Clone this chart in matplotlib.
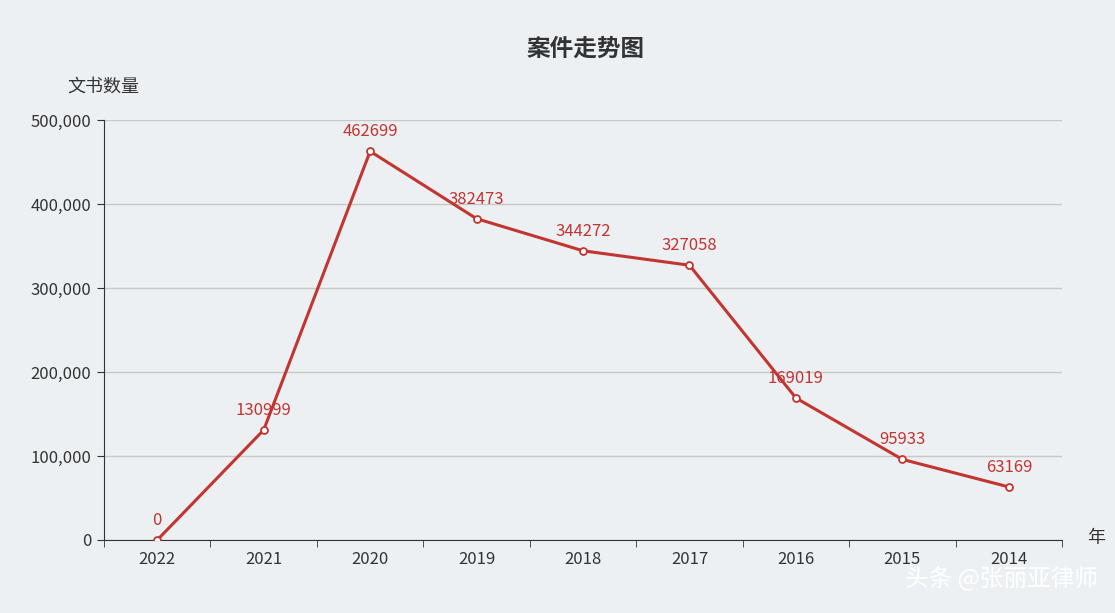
import matplotlib
matplotlib.use("Agg")
import matplotlib.pyplot as plt

plt.rcParams['font.family'] = ['Noto Sans CJK SC', 'DejaVu Sans']

years = ["2022", "2021", "2020", "2019", "2018", "2017", "2016", "2015", "2014"]
counts = [0, 130999, 462699, 382473, 344272, 327058, 169019, 95933, 63169]
yticks = [0, 100000, 200000, 300000, 400000, 500000]

bg = "#ECF0F2"
red = "#C23531"
fig = plt.figure(figsize=(11.15, 6.13), dpi=100, facecolor=bg)
ax = fig.add_axes([0.0933, 0.1191, 0.8592, 0.6852], facecolor=bg)

x = list(range(len(years)))
ax.plot(x, counts, color=red, lw=2.2, marker='o', ms=5, mfc='white', mec=red, mew=1.3, zorder=3)
for xi, v in zip(x, counts):
    ax.annotate(str(v), (xi, v), xytext=(0, 8), textcoords='offset points',
                ha='center', va='bottom', color=red, fontsize=12)

ax.set_xlim(-0.5, len(years) - 0.5)
ax.set_ylim(0, 500000)
ax.set_yticks(yticks)
ax.set_yticklabels([f"{v:,}" for v in yticks], fontsize=12, color='#333333')
ax.set_xticks(x)
ax.set_xticklabels(years, fontsize=12, color='#333333')
ax.set_xticks([i - 0.5 for i in range(len(years) + 1)], minor=True)
ax.tick_params(axis='x', which='major', length=0, pad=8)
ax.tick_params(axis='x', which='minor', length=5, color='#333333')
ax.tick_params(axis='y', length=5, color='#333333', pad=4)
ax.grid(axis='y', color='#C8C8C8', lw=1)
for s in ['top', 'right']:
    ax.spines[s].set_visible(False)
ax.spines['left'].set_color('#333333')
ax.spines['bottom'].set_color('#333333')
ax.set_axisbelow(True)

fig.text(0.525, 0.92, "案件走势图", ha='center', va='center', fontsize=17, fontweight='bold', color='#333333')
fig.text(0.06, 0.858, "文书数量", ha='left', va='center', fontsize=13, color='#333333')
fig.text(0.975, 0.122, "年", ha='left', va='center', fontsize=13, color='#333333')
fig.text(0.985, 0.055, "头条 @张丽亚律师", ha='right', va='center', fontsize=17, color='white')

fig.savefig("out.png", dpi=100, facecolor=bg)
